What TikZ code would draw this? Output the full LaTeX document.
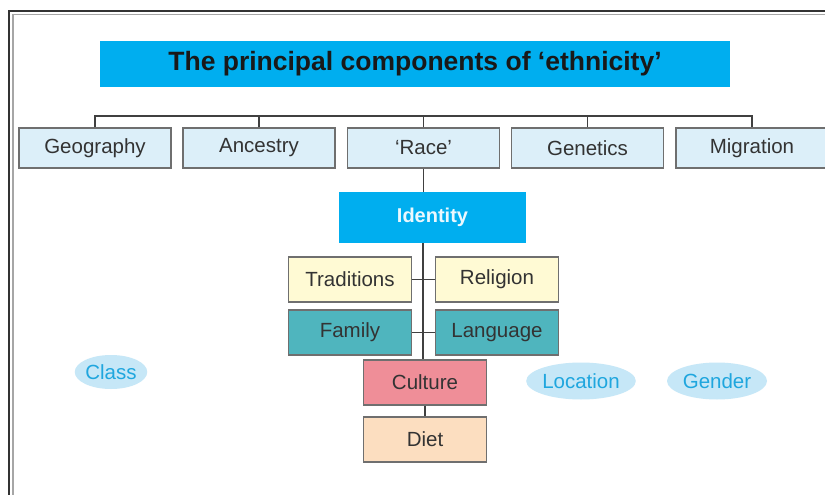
\documentclass[tikz,border=0pt]{standalone}
\usepackage{fontspec}
\setmainfont{Liberation Sans}
\usetikzlibrary{shapes.geometric}
\definecolor{cyanbox}{HTML}{00AEEF}
\definecolor{lightbluebox}{HTML}{DCEFF9}
\definecolor{yellowbox}{HTML}{FFFAD4}
\definecolor{tealbox}{HTML}{4FB5BE}
\definecolor{pinkbox}{HTML}{EF8E98}
\definecolor{peachbox}{HTML}{FCDEC0}
\definecolor{ellfill}{HTML}{C6E7F7}
\definecolor{elltext}{HTML}{1FA6DE}
\definecolor{boxline}{HTML}{6F6F6F}
\definecolor{txt}{HTML}{333333}
\tikzset{
  basebox/.style={rectangle, inner sep=0pt, draw=boxline, line width=1.1pt, text=txt, font=\fontsize{20.5}{24}\selectfont},
  topbox/.style={basebox, fill=lightbluebox, minimum width=152pt, minimum height=40pt},
  midbox/.style={basebox, minimum width=123pt, minimum height=45pt},
  tag/.style={ellipse, inner sep=0pt, fill=ellfill, text=elltext, font=\fontsize{20.5}{24}\selectfont},
  conn/.style={draw=black!75, line width=1.1pt}
}
\begin{document}
\begin{tikzpicture}[x=1pt,y=-1pt]
\useasboundingbox (0,0) rectangle (825,495);
\fill[white] (0,0) rectangle (825,495);
% frame
\draw[black!80, line width=1.8pt] (9,505) -- (9,11) -- (840,11);
\draw[black!35, line width=1.2pt] (13,505) -- (13,14.5) -- (840,14.5);
% title
\node[rectangle, inner sep=0pt, fill=cyanbox, minimum width=630pt, minimum height=46pt,
  font=\bfseries\fontsize{26.5}{30}\selectfont, text=black!90] (title) at (415,64) {The principal components of ‘ethnicity’};
% top row
\node[topbox] (geo) at (95,148) {Geography};
\node[topbox] (anc) at (259,148) {Ancestry};
\node[topbox] (race) at (423.5,148) {‘Race’};
\node[topbox] (gen) at (587.5,148) {\raisebox{-2.5pt}{Genetics}};
\node[topbox] (mig) at (752,148) {Migration};
% identity
\node[rectangle, inner sep=0pt, fill=cyanbox, minimum width=187pt, minimum height=51pt,
  font=\bfseries\fontsize{20}{24}\selectfont, text=white!92!cyan] (ident) at (432.5,217.5) {Identity};
% middle
\node[midbox, fill=yellowbox] (trad) at (350,279.5) {Traditions};
\node[midbox, fill=yellowbox] (rel) at (497,279.5) {Religion};
\node[midbox, fill=tealbox] (fam) at (350,332.5) {Family};
\node[midbox, fill=tealbox] (lang) at (497,332.5) {Language};
\node[midbox, fill=pinkbox] (cult) at (425,382.5) {Culture};
\node[midbox, fill=peachbox] (diet) at (425,439.5) {Diet};
% tags
\node[tag, minimum width=72pt, minimum height=34pt] (class) at (111,372) {Class};
\node[tag, minimum width=98pt, minimum height=37pt] (loc) at (581,381) {Location};
\node[tag, minimum width=100pt, minimum height=37pt] (gender) at (717,381) {Gender};
% connectors
\coordinate (bus) at (0,116);
\draw[conn] (geo.north) -- (geo.north |- bus) -- (mig.north |- bus) -- (mig.north);
\foreach \n in {anc,race,gen} \draw[conn] (\n.north) -- (\n.north |- bus);
\draw[conn] (race.south) -- (race.south |- ident.north);
\coordinate (sp) at (423,0);
\draw[conn] (sp |- ident.south) -- (sp |- cult.north);
\draw[conn] (trad.east) -- (rel.west);
\draw[conn] (fam.east) -- (lang.west);
\draw[conn] (cult.south) -- (diet.north);
\end{tikzpicture}
\end{document}
